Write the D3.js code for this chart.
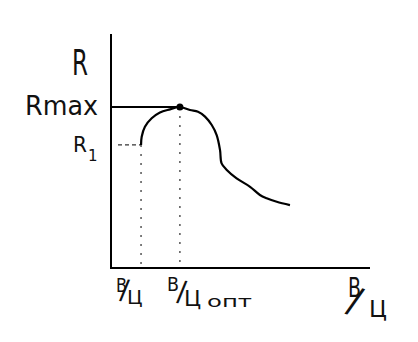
<!DOCTYPE html>
<html><head><meta charset="utf-8">
<script src="https://cdn.jsdelivr.net/npm/d3@7"></script>
<style>
html,body{margin:0;padding:0;background:#fff;}
svg{display:block;}
text{font-family:"DejaVu Sans",sans-serif;fill:#111;}
</style></head>
<body><svg id="chart" width="418" height="342"></svg>
<script>
// Data (relative units, B/Ц on x, R on y)
const curveX = [11.6, 11.85, 13.1, 15.7, 18.9, 22.8, 26.6, 30.5, 33.6, 36.3, 38.9, 40.8, 42.1, 42.7, 44.7, 48.5, 53.7, 57.5, 60.1, 64.0, 69.1];
const curveY = [52.6, 56.1, 60.4, 64.0, 66.5, 67.8, 68.8, 67.5, 66.8, 64.7, 61.1, 56.8, 50.4, 44.7, 41.9, 38.3, 34.7, 31.2, 29.8, 28.3, 26.9];
const xOpt = 26.6, x1 = 11.6;
const rMax = 68.8, r1 = 52.6;
const yLabels = ["R", "Rmax", "R1"];
const xLabels = ["В/Ц", "В/Цопт", "В/Ц"];

const svg = d3.select("#chart");
const x = d3.scaleLinear().domain([0, 100]).range([111, 370]);
const y = d3.scaleLinear().domain([0, 100]).range([268, 34]);

// axes
svg.append("line").attr("x1", x(0)).attr("x2", x(0)).attr("y1", y(100)).attr("y2", y(0))
  .attr("stroke", "#000").attr("stroke-width", 2);
svg.append("line").attr("x1", x(0) - 1).attr("x2", x(100)).attr("y1", y(0)).attr("y2", y(0))
  .attr("stroke", "#000").attr("stroke-width", 2);

// guide lines
svg.append("line").attr("x1", x(0)).attr("x2", x(xOpt)).attr("y1", y(rMax)).attr("y2", y(rMax))
  .attr("stroke", "#000").attr("stroke-width", 2);
svg.append("line").attr("x1", x(2.7)).attr("x2", x(x1)).attr("y1", y(r1)).attr("y2", y(r1))
  .attr("stroke", "#333").attr("stroke-width", 1.3).attr("stroke-dasharray", "4,3");
svg.append("line").attr("x1", x(x1)).attr("x2", x(x1)).attr("y1", y(r1)).attr("y2", y(0))
  .attr("stroke", "#555").attr("stroke-width", 1.5).attr("stroke-dasharray", "2,7");
svg.append("line").attr("x1", x(xOpt)).attr("x2", x(xOpt)).attr("y1", y(rMax)).attr("y2", y(0))
  .attr("stroke", "#555").attr("stroke-width", 1.5).attr("stroke-dasharray", "2,7");

// curve
const pts = curveX.map((v, i) => [v, curveY[i]]);
svg.append("path").datum(pts)
  .attr("d", d3.line().x(d => x(d[0])).y(d => y(d[1])).curve(d3.curveCatmullRom))
  .attr("fill", "none").attr("stroke", "#000").attr("stroke-width", 2.2);

svg.append("circle").attr("cx", x(xOpt)).attr("cy", y(rMax)).attr("r", 3.5).attr("fill", "#000");

// y labels
svg.append("text").attr("x", 72).attr("y", 75).attr("font-size", 36)
  .attr("textLength", 16).attr("lengthAdjust", "spacingAndGlyphs").text(yLabels[0]);
svg.append("text").attr("x", 25).attr("y", 115).attr("font-size", 27)
  .attr("textLength", 73).attr("lengthAdjust", "spacingAndGlyphs").text(yLabels[1]);
svg.append("text").attr("x", 73).attr("y", 152).attr("font-size", 22)
  .attr("textLength", 14).attr("lengthAdjust", "spacingAndGlyphs").text(yLabels[2].slice(0, 1));
svg.append("text").attr("x", 88).attr("y", 161).attr("font-size", 15).text(yLabels[2].slice(1));

// x labels as hand-written fractions
function frac(str, o) {
  const g = svg.append("g");
  g.append("text").attr("x", o.b[0]).attr("y", o.b[1]).attr("font-size", o.b[2])
    .attr("textLength", o.b[3]).attr("lengthAdjust", "spacingAndGlyphs").text(str[0]);
  g.append("text").attr("font-size", o.s[2]).attr("y", -0.13 * o.s[2])
    .attr("transform", `translate(${o.s[0]},${o.s[1]}) rotate(${o.s[3]})`).text(str[1]);
  g.append("text").attr("x", o.c[0]).attr("y", o.c[1]).attr("font-size", o.c[2]).text(str[2]);
  if (o.sub) g.append("text").attr("x", o.sub[0]).attr("y", o.sub[1]).attr("font-size", o.sub[2])
    .attr("textLength", o.sub[3]).attr("lengthAdjust", "spacingAndGlyphs").text(str.slice(3));
}
frac(xLabels[0], {b: [116, 292, 19, 11], s: [119, 302, 27, 5], c: [127, 304, 20]});
frac(xLabels[1], {b: [167, 291, 20, 12], s: [176, 304, 28, 5], c: [184, 306, 22], sub: [207, 307, 16, 45]});
frac(xLabels[2], {b: [348, 297, 26, 13], s: [344, 315, 36, 18], c: [369, 317, 23]});
</script></body></html>
